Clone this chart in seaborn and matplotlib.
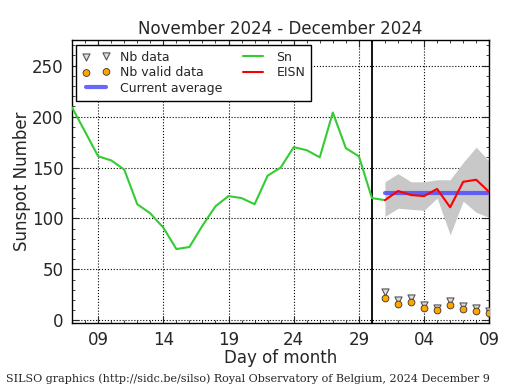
import numpy as np
import pandas as pd
import matplotlib
matplotlib.use("Agg")
import matplotlib.pyplot as plt
import matplotlib.dates as mdates
import seaborn as sns

# ---- data ----
sn_dates = pd.date_range("2024-11-07", "2024-12-01", freq="D")
sn_values = [209, 185, 161, 157, 148, 114, 105, 91, 70, 72, 93, 112, 122, 120,
             114, 142, 150, 170, 167, 160, 204, 169, 161, 120, 118]

eisn_dates = pd.date_range("2024-12-01", "2024-12-09", freq="D")
eisn_values = [118, 127, 123, 122, 129, 111, 136, 138, 126]
eisn_upper = [136, 144, 136, 136, 138, 138, 155, 170, 156]
eisn_lower = [102, 110, 109, 108, 120, 84, 117, 106, 101]
nb_data = [28, 20, 22, 15, 12, 19, 14, 12, 9]
nb_valid = [22, 16, 18, 12, 10, 15, 11, 9, 7]
current_average = 125

title = "November 2024 - December 2024"
footer = "SILSO graphics (http://sidc.be/silso) Royal Observatory of Belgium, 2024 December 9"

sn_df = pd.DataFrame({"date": sn_dates, "value": sn_values})
ei_df = pd.DataFrame({"date": eisn_dates, "value": eisn_values,
                      "upper": eisn_upper, "lower": eisn_lower,
                      "nb": nb_data, "valid": nb_valid,
                      "avg": [current_average] * len(eisn_dates)})

sns.set_style("ticks")
plt.rcParams["font.family"] = ["DejaVu Sans"]

fig = plt.figure(figsize=(5.15, 3.9), dpi=100)
ax = fig.add_axes([0.140, 0.172, 0.810, 0.725])

ax.fill_between(ei_df["date"], ei_df["lower"], ei_df["upper"],
                color="#c8c8c8", linewidth=0, zorder=1)

sns.scatterplot(data=ei_df, x="date", y="nb", ax=ax, marker="v", s=26,
                color="#dddddd", edgecolor="#555555", linewidth=0.8,
                label="Nb data", zorder=4)
sns.scatterplot(data=ei_df, x="date", y="valid", ax=ax, marker="o", s=24,
                color="#ffa500", edgecolor="#333333", linewidth=0.6,
                label="Nb valid data", zorder=5)
sns.lineplot(data=ei_df, x="date", y="avg", ax=ax, color="#4d4dff",
             linewidth=3, alpha=0.85, label="Current average", zorder=3)
sns.lineplot(data=sn_df, x="date", y="value", ax=ax, color="#33cc33",
             linewidth=1.5, label="Sn", zorder=3)
sns.lineplot(data=ei_df, x="date", y="value", ax=ax, color="#ff0000",
             linewidth=1.5, label="EISN", zorder=4)

ax.axvline(pd.Timestamp("2024-11-30"), color="black", linewidth=1.3, zorder=2)

ax.set_xlim(pd.Timestamp("2024-11-07"), pd.Timestamp("2024-12-09"))
ax.set_ylim(-2.5, 275)

ax.xaxis.set_major_locator(mdates.DayLocator(bymonthday=[4, 9, 14, 19, 24, 29]))
ax.xaxis.set_minor_locator(mdates.DayLocator())
ax.xaxis.set_major_formatter(mdates.DateFormatter("%d"))
ax.yaxis.set_major_locator(matplotlib.ticker.MultipleLocator(50))
ax.yaxis.set_minor_locator(matplotlib.ticker.MultipleLocator(10))

ax.tick_params(which="both", direction="in", top=True, right=True, labelsize=12)
ax.tick_params(which="major", length=5, width=0.8, pad=6)
ax.tick_params(which="minor", length=2.5, width=0.6)
ax.grid(True, which="major", linestyle=":", color="black", linewidth=0.8)
for sp in ax.spines.values():
    sp.set_linewidth(1.0)
    sp.set_color("black")

ax.set_title(title, fontsize=12, pad=4.5)
ax.set_xlabel("Day of month", fontsize=12, labelpad=0)
ax.set_ylabel("Sunspot Number", fontsize=12, labelpad=1)

handles, labels = ax.get_legend_handles_labels()
leg = ax.legend(handles, labels, loc="upper left", ncol=2, fontsize=9,
                numpoints=2, scatterpoints=2, fancybox=False, framealpha=1,
                edgecolor="black", borderaxespad=0.35, handlelength=2.2,
                columnspacing=1.3, labelspacing=0.2, borderpad=0.5)
leg.get_frame().set_linewidth(1.0)

fig.text(0.012, 0.02, footer, fontsize=8, family="DejaVu Serif")

fig.savefig("out.png", dpi=100)
